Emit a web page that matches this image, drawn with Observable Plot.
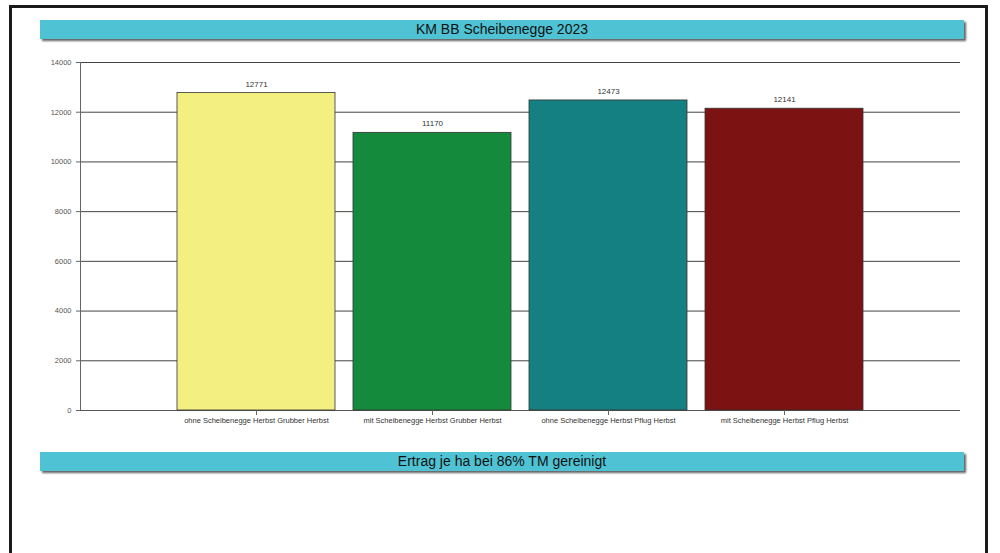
<!DOCTYPE html>
<html>
<head>
<meta charset="utf-8">
<script src="https://cdn.jsdelivr.net/npm/d3@7"></script>
<script src="https://cdn.jsdelivr.net/npm/@observablehq/plot@0.6"></script>
<style>
  html, body { margin: 0; padding: 0; background: #fff; }
  #wrap { position: relative; width: 1000px; height: 553px; overflow: hidden; font-family: "Liberation Sans", Arial, sans-serif; }
  #frame { position: absolute; left: 9px; top: 5px; width: 979px; height: 600px; border: 3px solid #1a1a1a; box-sizing: border-box; }
  .band { position: absolute; left: 40px; width: 924px; height: 19px; background: #4fc3d3;
          box-shadow: 2px 2px 2px rgba(60,60,60,0.8); text-align: center; font-size: 14px; line-height: 19px; color: #111; }
  #title { top: 20px; }
  #caption { top: 452px; }
  #chart { position: absolute; left: 0; top: 0; }
</style>
</head>
<body>
<div id="wrap">
  <div id="frame"></div>
  <div id="chart"></div>
  <div class="band" id="title">KM BB Scheibenegge 2023</div>
  <div class="band" id="caption">Ertrag je ha bei 86% TM gereinigt</div>
</div>
<script>
const categories = [
  "ohne Scheibenegge Herbst Grubber Herbst",
  "mit Scheibenegge Herbst Grubber Herbst",
  "ohne Scheibenegge Herbst Pflug Herbst",
  "mit Scheibenegge Herbst Pflug Herbst"
];
const values = [12771, 11170, 12473, 12141];
const colors = ["#f3ef80", "#148a3c", "#148082", "#7c1212"];
const yTicks = [0, 2000, 4000, 6000, 8000, 10000, 12000, 14000];

const data = categories.map((c, i) => ({category: c, value: values[i], color: colors[i]}));

const chart = Plot.plot({
  width: 1000,
  height: 440,
  marginLeft: 80,
  marginRight: 40,
  marginTop: 62,
  marginBottom: 30,
  style: {fontFamily: "'Liberation Sans', Arial, sans-serif", background: "transparent"},
  x: {domain: categories, range: [168, 872], paddingInner: 0.1, paddingOuter: 0.05, label: null},
  y: {domain: [0, 14000], label: null},
  marks: [
    Plot.gridY(yTicks, {stroke: "#444", strokeOpacity: 1, strokeWidth: 1}),
    Plot.frame({anchor: "left", stroke: "#666"}),
    Plot.ruleY([0], {stroke: "#555"}),
    Plot.barY(data, {x: "category", y: "value", fill: "color", stroke: "#333", strokeWidth: 0.8}),
    Plot.text(data, {x: "category", y: "value", text: d => String(d.value), dy: -9, fontSize: 8, fill: "#333"}),
    Plot.axisY({ticks: yTicks, tickSize: 4, fontSize: 7.5, fill: "#555", stroke: "#666", tickFormat: d => String(d), label: null}),
    Plot.axisX({tickSize: 5, fontSize: 7.5, fill: "#333", stroke: "#666", tickPadding: 2, label: null})
  ]
});
document.getElementById("chart").appendChild(chart);
</script>
</body>
</html>
